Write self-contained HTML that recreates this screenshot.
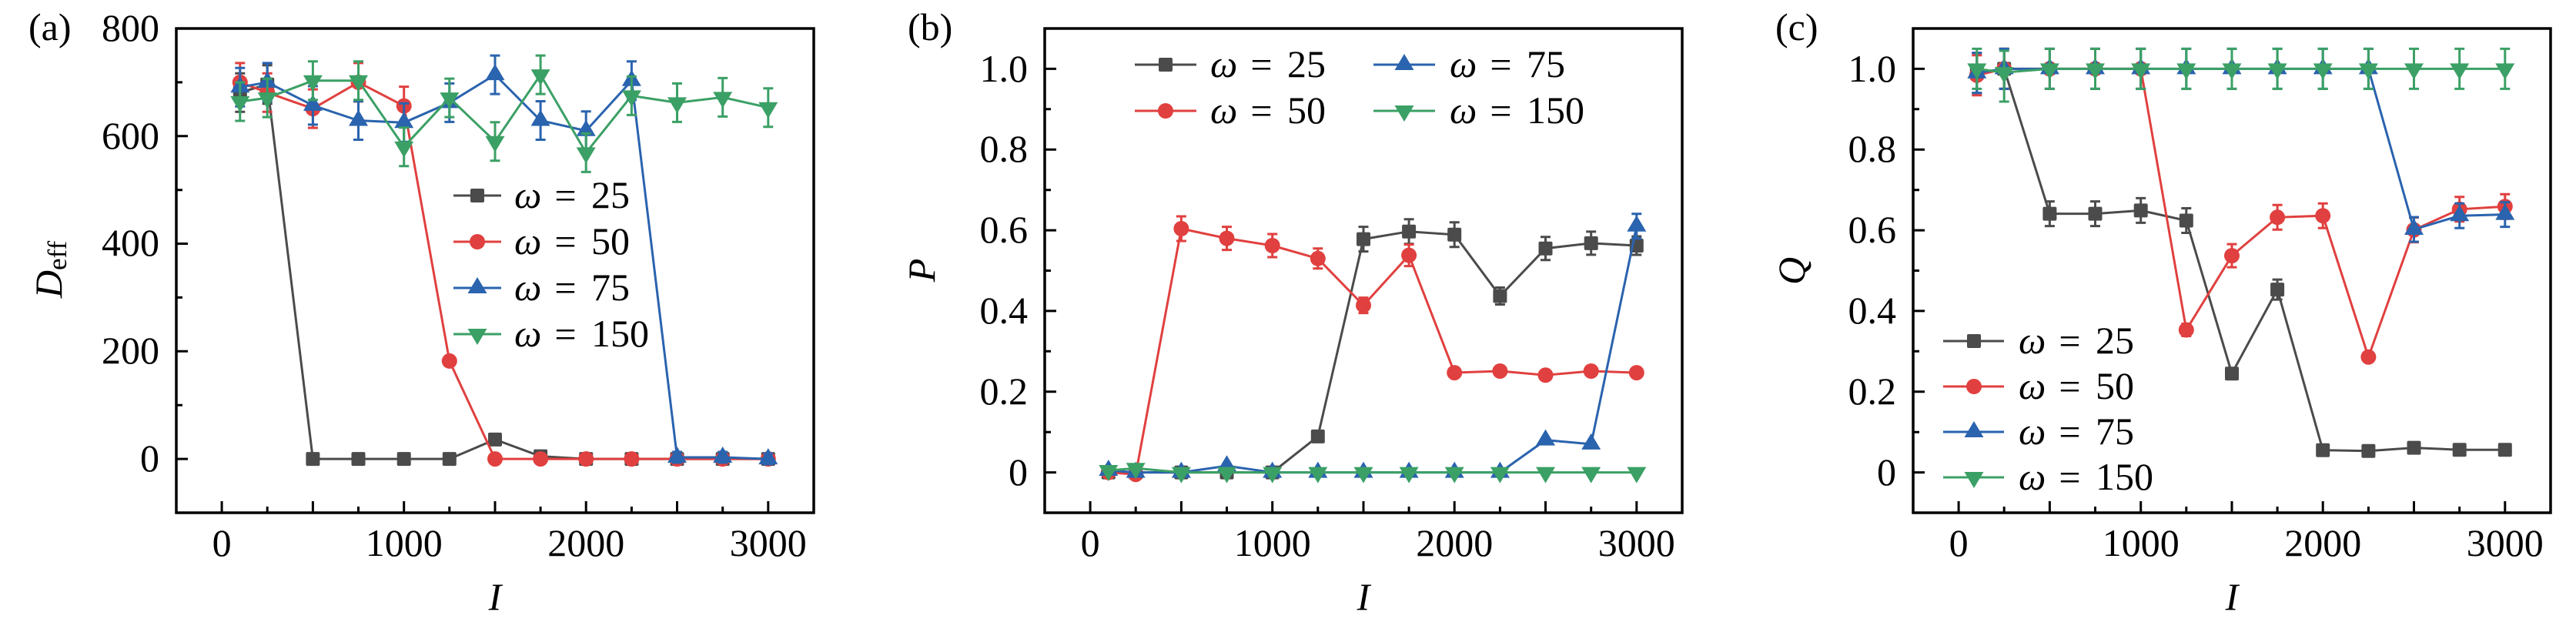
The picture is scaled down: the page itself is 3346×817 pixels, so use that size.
<!DOCTYPE html>
<html><head><meta charset="utf-8"><style>
html,body{margin:0;padding:0;background:#fff;}
svg{display:block;}
text{font-family:"Liberation Serif",serif;font-size:50px;fill:#000;}
</style></head><body>
<svg xmlns="http://www.w3.org/2000/svg" width="3346" height="817" viewBox="0 0 3346 817">
<defs>
<rect id="sq" x="-9" y="-9" width="18" height="18" rx="2"/>
<circle id="ci" cx="0" cy="0" r="10"/>
<polygon id="tu" points="0,-14 12.5,7 -12.5,7"/>
<polygon id="td" points="0,14 12.5,-7 -12.5,-7"/>
</defs>
<rect width="3346" height="817" fill="#fff"/>

<!-- panel labels -->
<text x="37" y="52">(a)</text>
<text x="1179" y="52">(b)</text>
<text x="2306" y="52">(c)</text>

<!-- ================= PANEL A ================= -->
<g transform="translate(229,0)">
<rect x="0" y="37" width="828" height="629" fill="none" stroke="#000" stroke-width="3.5"/>
<path stroke="#000" stroke-width="3" fill="none" d="M59.1,666v-15M177.4,666v-15M295.7,666v-15M414,666v-15M532.2,666v-15M650.5,666v-15M768.8,666v-15M118.2,666v-8M236.5,666v-8M354.8,666v-8M473.1,666v-8M591.4,666v-8M709.7,666v-8M0,596.1h15M0,456.3h15M0,316.5h15M0,176.8h15M0,526.2h8M0,386.4h8M0,246.7h8M0,106.9h8"/>
<g text-anchor="middle">
<text x="59.1" y="722">0</text><text x="295.7" y="722">1000</text><text x="532.2" y="722">2000</text><text x="768.8" y="722">3000</text>
</g>
<g text-anchor="end">
<text x="-22" y="612">0</text><text x="-22" y="472">200</text><text x="-22" y="332">400</text><text x="-22" y="193">600</text><text x="-22" y="53">800</text>
</g>
<text x="414" y="792" text-anchor="middle" font-style="italic">I</text>
<text transform="translate(-149,350) rotate(-90)" text-anchor="middle"><tspan font-style="italic">D</tspan><tspan font-size="35" dy="6">eff</tspan></text>

<!-- gray w=25 -->
<g stroke="#4b4b4b" fill="#4b4b4b">
<path fill="none" stroke-width="3" d="M82.8,95.2V145.2M76.3,95.2h13M76.3,145.2h13M118.2,84.7V134.7M111.7,84.7h13M111.7,134.7h13M473.1,586.6V598.6M466.6,586.6h13M466.6,598.6h13"/>
<polyline fill="none" stroke-width="3" points="82.8,120.2 118.2,109.7 177.4,596.1 236.5,596.1 295.7,596.1 354.8,596.1 414,570.9 473.1,592.6 532.2,596.1 591.4,596.1 650.5,596.1 709.7,596.1 768.8,596.1"/>
<g stroke="none">
<use href="#sq" x="82.8" y="120.2"/><use href="#sq" x="118.2" y="109.7"/><use href="#sq" x="177.4" y="596.1"/><use href="#sq" x="236.5" y="596.1"/><use href="#sq" x="295.7" y="596.1"/><use href="#sq" x="354.8" y="596.1"/><use href="#sq" x="414" y="570.9"/><use href="#sq" x="473.1" y="592.6"/><use href="#sq" x="532.2" y="596.1"/><use href="#sq" x="591.4" y="596.1"/><use href="#sq" x="650.5" y="596.1"/><use href="#sq" x="709.7" y="596.1"/><use href="#sq" x="768.8" y="596.1"/>
</g></g>
<!-- red w=50 -->
<g stroke="#e0403f" fill="#e0403f">
<path fill="none" stroke-width="3" d="M82.8,81.9V131.9M76.3,81.9h13M76.3,131.9h13M118.2,95.2V145.2M111.7,95.2h13M111.7,145.2h13M177.4,116.1V166.1M170.9,116.1h13M170.9,166.1h13M236.5,81.9V131.9M230,81.9h13M230,131.9h13M295.7,112.6V162.6M289.2,112.6h13M289.2,162.6h13"/>
<polyline fill="none" stroke-width="3" points="82.8,106.9 118.2,120.2 177.4,141.1 236.5,106.9 295.7,137.6 354.8,468.9 414,596.1 473.1,596.1 532.2,596.1 591.4,596.1 650.5,596.1 709.7,596.1 768.8,596.1"/>
<g stroke="none">
<use href="#ci" x="82.8" y="106.9"/><use href="#ci" x="118.2" y="120.2"/><use href="#ci" x="177.4" y="141.1"/><use href="#ci" x="236.5" y="106.9"/><use href="#ci" x="295.7" y="137.6"/><use href="#ci" x="354.8" y="468.9"/><use href="#ci" x="414" y="596.1"/><use href="#ci" x="473.1" y="596.1"/><use href="#ci" x="532.2" y="596.1"/><use href="#ci" x="591.4" y="596.1"/><use href="#ci" x="650.5" y="596.1"/><use href="#ci" x="709.7" y="596.1"/><use href="#ci" x="768.8" y="596.1"/>
</g></g>
<!-- blue w=75 -->
<g stroke="#2a63ae" fill="#2a63ae">
<path fill="none" stroke-width="3" d="M82.8,88.2V138.2M76.3,88.2h13M76.3,138.2h13M118.2,81.9V131.9M111.7,81.9h13M111.7,131.9h13M177.4,111.9V161.9M170.9,111.9h13M170.9,161.9h13M236.5,131.5V181.5M230,131.5h13M230,181.5h13M295.7,134.3V184.3M289.2,134.3h13M289.2,184.3h13M354.8,108.4V158.4M348.3,108.4h13M348.3,158.4h13M414,72.1V122.1M407.5,72.1h13M407.5,122.1h13M473.1,131.5V181.5M466.6,131.5h13M466.6,181.5h13M532.2,144.8V194.8M525.7,144.8h13M525.7,194.8h13M591.4,79.8V129.8M584.9,79.8h13M584.9,129.8h13M650.5,587V601M644,587h13M644,601h13M709.7,587V601M703.2,587h13M703.2,601h13M768.8,589.1V603.1M762.3,589.1h13M762.3,603.1h13"/>
<polyline fill="none" stroke-width="3" points="82.8,113.2 118.2,106.9 177.4,136.9 236.5,156.5 295.7,159.3 354.8,133.4 414,97.1 473.1,156.5 532.2,169.8 591.4,104.8 650.5,594 709.7,594 768.8,596.1"/>
<g stroke="none">
<use href="#tu" x="82.8" y="113.2"/><use href="#tu" x="118.2" y="106.9"/><use href="#tu" x="177.4" y="136.9"/><use href="#tu" x="236.5" y="156.5"/><use href="#tu" x="295.7" y="159.3"/><use href="#tu" x="354.8" y="133.4"/><use href="#tu" x="414" y="97.1"/><use href="#tu" x="473.1" y="156.5"/><use href="#tu" x="532.2" y="169.8"/><use href="#tu" x="591.4" y="104.8"/><use href="#tu" x="650.5" y="594"/><use href="#tu" x="709.7" y="594"/><use href="#tu" x="768.8" y="596.1"/>
</g></g>
<!-- green w=150 -->
<g stroke="#3ba065" fill="#3ba065">
<path fill="none" stroke-width="3" d="M82.8,107V157M76.3,107h13M76.3,157h13M118.2,102.1V152.1M111.7,102.1h13M111.7,152.1h13M177.4,79.8V129.8M170.9,79.8h13M170.9,129.8h13M236.5,79.8V129.8M230,79.8h13M230,129.8h13M295.7,165.7V215.7M289.2,165.7h13M289.2,215.7h13M354.8,102.1V152.1M348.3,102.1h13M348.3,152.1h13M414,158.8V208.8M407.5,158.8h13M407.5,208.8h13M473.1,72.1V122.1M466.6,72.1h13M466.6,122.1h13M532.2,173.4V223.4M525.7,173.4h13M525.7,223.4h13M591.4,99.4V149.4M584.9,99.4h13M584.9,149.4h13M650.5,108.4V158.4M644,108.4h13M644,158.4h13M709.7,101.4V151.4M703.2,101.4h13M703.2,151.4h13M768.8,114.7V164.7M762.3,114.7h13M762.3,164.7h13"/>
<polyline fill="none" stroke-width="3" points="82.8,132 118.2,127.1 177.4,104.8 236.5,104.8 295.7,190.7 354.8,127.1 414,183.8 473.1,97.1 532.2,198.4 591.4,124.4 650.5,133.4 709.7,126.4 768.8,139.7"/>
<g stroke="none">
<use href="#td" x="82.8" y="132"/><use href="#td" x="118.2" y="127.1"/><use href="#td" x="177.4" y="104.8"/><use href="#td" x="236.5" y="104.8"/><use href="#td" x="295.7" y="190.7"/><use href="#td" x="354.8" y="127.1"/><use href="#td" x="414" y="183.8"/><use href="#td" x="473.1" y="97.1"/><use href="#td" x="532.2" y="198.4"/><use href="#td" x="591.4" y="124.4"/><use href="#td" x="650.5" y="133.4"/><use href="#td" x="709.7" y="126.4"/><use href="#td" x="768.8" y="139.7"/>
</g></g>

<!-- legend a -->
<g stroke-width="3">
<line x1="360" y1="254" x2="422" y2="254" stroke="#4b4b4b"/><use href="#sq" x="391" y="254" fill="#4b4b4b"/>
<line x1="360" y1="314" x2="422" y2="314" stroke="#e0403f"/><use href="#ci" x="391" y="314" fill="#e0403f"/>
<line x1="360" y1="374" x2="422" y2="374" stroke="#2a63ae"/><use href="#tu" x="391" y="374" fill="#2a63ae"/>
<line x1="360" y1="434" x2="422" y2="434" stroke="#3ba065"/><use href="#td" x="391" y="434" fill="#3ba065"/>
</g>
<text x="439" y="270" font-style="italic">ω</text><text x="505.5" y="271" text-anchor="middle" font-size="56">=</text><text x="539" y="270">25</text>
<text x="439" y="330" font-style="italic">ω</text><text x="505.5" y="331" text-anchor="middle" font-size="56">=</text><text x="539" y="330">50</text>
<text x="439" y="390" font-style="italic">ω</text><text x="505.5" y="391" text-anchor="middle" font-size="56">=</text><text x="539" y="390">75</text>
<text x="439" y="450" font-style="italic">ω</text><text x="505.5" y="451" text-anchor="middle" font-size="56">=</text><text x="539" y="450">150</text>
</g>

<!-- ================= PANEL B ================= -->
<g transform="translate(1357,0)">
<rect x="0" y="37" width="828" height="629" fill="none" stroke="#000" stroke-width="3.5"/>
<path stroke="#000" stroke-width="3" fill="none" d="M59.1,666v-15M177.4,666v-15M295.7,666v-15M414,666v-15M532.2,666v-15M650.5,666v-15M768.8,666v-15M118.2,666v-8M236.5,666v-8M354.8,666v-8M473.1,666v-8M591.4,666v-8M709.7,666v-8M0,613.6h15M0,508.7h15M0,403.9h15M0,299.1h15M0,194.2h15M0,89.4h15M0,561.2h8M0,456.3h8M0,351.5h8M0,246.7h8M0,141.8h8"/>
<g text-anchor="middle">
<text x="59.1" y="722">0</text><text x="295.7" y="722">1000</text><text x="532.2" y="722">2000</text><text x="768.8" y="722">3000</text>
</g>
<g text-anchor="end">
<text x="-22" y="630">0</text><text x="-22" y="525">0.2</text><text x="-22" y="420">0.4</text><text x="-22" y="315">0.6</text><text x="-22" y="210">0.8</text><text x="-22" y="106">1.0</text>
</g>
<text x="414" y="792" text-anchor="middle" font-style="italic">I</text>
<text transform="translate(-143,351) rotate(-90)" text-anchor="middle" font-style="italic">P</text>

<!-- gray -->
<g stroke="#4b4b4b" fill="#4b4b4b">
<path fill="none" stroke-width="3" d="M414,294.6V326.6M407.5,294.6h13M407.5,326.6h13M473.1,284.7V316.7M466.6,284.7h13M466.6,316.7h13M532.2,288.8V320.8M525.7,288.8h13M525.7,320.8h13M591.4,373.5V395.5M584.9,373.5h13M584.9,395.5h13M650.5,307.7V337.7M644,307.7h13M644,337.7h13M709.7,300.9V330.9M703.2,300.9h13M703.2,330.9h13M768.8,307V331M762.3,307h13M762.3,331h13"/>
<polyline fill="none" stroke-width="3" points="82.8,613.6 118.2,613.6 177.4,613.6 236.5,613.6 295.7,613.6 354.8,566.9 414,310.6 473.1,300.7 532.2,304.8 591.4,384.5 650.5,322.7 709.7,315.9 768.8,319"/>
<g stroke="none">
<use href="#sq" x="82.8" y="613.6"/><use href="#sq" x="118.2" y="613.6"/><use href="#sq" x="177.4" y="613.6"/><use href="#sq" x="236.5" y="613.6"/><use href="#sq" x="295.7" y="613.6"/><use href="#sq" x="354.8" y="566.9"/><use href="#sq" x="414" y="310.6"/><use href="#sq" x="473.1" y="300.7"/><use href="#sq" x="532.2" y="304.8"/><use href="#sq" x="591.4" y="384.5"/><use href="#sq" x="650.5" y="322.7"/><use href="#sq" x="709.7" y="315.9"/><use href="#sq" x="768.8" y="319"/>
</g></g>
<!-- red -->
<g stroke="#e0403f" fill="#e0403f">
<path fill="none" stroke-width="3" d="M177.4,281V313M170.9,281h13M170.9,313h13M236.5,294.6V324.6M230,294.6h13M230,324.6h13M295.7,304V334M289.2,304h13M289.2,334h13M354.8,322.8V348.8M348.3,322.8h13M348.3,348.8h13M414,386.6V406.6M407.5,386.6h13M407.5,406.6h13M473.1,317.6V345.6M466.6,317.6h13M466.6,345.6h13M532.2,480.1V488.1M525.7,480.1h13M525.7,488.1h13M591.4,478V486M584.9,478h13M584.9,486h13M650.5,483.3V491.3M644,483.3h13M644,491.3h13M709.7,478V486M703.2,478h13M703.2,486h13M768.8,480.1V488.1M762.3,480.1h13M762.3,488.1h13"/>
<polyline fill="none" stroke-width="3" points="82.8,613.6 118.2,616.2 177.4,297 236.5,309.6 295.7,319 354.8,335.8 414,396.6 473.1,331.6 532.2,484.1 591.4,482 650.5,487.3 709.7,482 768.8,484.1"/>
<g stroke="none">
<use href="#ci" x="82.8" y="613.6"/><use href="#ci" x="118.2" y="616.2"/><use href="#ci" x="177.4" y="297"/><use href="#ci" x="236.5" y="309.6"/><use href="#ci" x="295.7" y="319"/><use href="#ci" x="354.8" y="335.8"/><use href="#ci" x="414" y="396.6"/><use href="#ci" x="473.1" y="331.6"/><use href="#ci" x="532.2" y="484.1"/><use href="#ci" x="591.4" y="482"/><use href="#ci" x="650.5" y="487.3"/><use href="#ci" x="709.7" y="482"/><use href="#ci" x="768.8" y="484.1"/>
</g></g>
<!-- blue -->
<g stroke="#2a63ae" fill="#2a63ae">
<path fill="none" stroke-width="3" d="M768.8,277.8V309.8M762.3,277.8h13M762.3,309.8h13"/>
<polyline fill="none" stroke-width="3" points="82.8,611 118.2,613.6 177.4,613.6 236.5,605.2 295.7,613.6 354.8,613.6 414,613.6 473.1,613.6 532.2,613.6 591.4,613.6 650.5,571.6 709.7,576.9 768.8,293.8"/>
<g stroke="none">
<use href="#tu" x="82.8" y="611"/><use href="#tu" x="118.2" y="613.6"/><use href="#tu" x="177.4" y="613.6"/><use href="#tu" x="236.5" y="605.2"/><use href="#tu" x="295.7" y="613.6"/><use href="#tu" x="354.8" y="613.6"/><use href="#tu" x="414" y="613.6"/><use href="#tu" x="473.1" y="613.6"/><use href="#tu" x="532.2" y="613.6"/><use href="#tu" x="591.4" y="613.6"/><use href="#tu" x="650.5" y="571.6"/><use href="#tu" x="709.7" y="576.9"/><use href="#tu" x="768.8" y="293.8"/>
</g></g>
<!-- green -->
<g stroke="#3ba065" fill="#3ba065">
<polyline fill="none" stroke-width="3" points="82.8,611 118.2,608.3 177.4,613.6 236.5,613.6 295.7,613.6 354.8,613.6 414,613.6 473.1,613.6 532.2,613.6 591.4,613.6 650.5,613.6 709.7,613.6 768.8,613.6"/>
<g stroke="none">
<use href="#td" x="82.8" y="611"/><use href="#td" x="118.2" y="608.3"/><use href="#td" x="177.4" y="613.6"/><use href="#td" x="236.5" y="613.6"/><use href="#td" x="295.7" y="613.6"/><use href="#td" x="354.8" y="613.6"/><use href="#td" x="414" y="613.6"/><use href="#td" x="473.1" y="613.6"/><use href="#td" x="532.2" y="613.6"/><use href="#td" x="591.4" y="613.6"/><use href="#td" x="650.5" y="613.6"/><use href="#td" x="709.7" y="613.6"/><use href="#td" x="768.8" y="613.6"/>
</g></g>

<!-- legend b -->
<g stroke-width="3">
<line x1="117" y1="84" x2="197" y2="84" stroke="#4b4b4b"/><use href="#sq" x="157" y="84" fill="#4b4b4b"/>
<line x1="117" y1="144" x2="197" y2="144" stroke="#e0403f"/><use href="#ci" x="157" y="144" fill="#e0403f"/>
<line x1="427" y1="84" x2="507" y2="84" stroke="#2a63ae"/><use href="#tu" x="467" y="84" fill="#2a63ae"/>
<line x1="427" y1="144" x2="507" y2="144" stroke="#3ba065"/><use href="#td" x="467" y="144" fill="#3ba065"/>
</g>
<text x="215" y="100" font-style="italic">ω</text><text x="281.5" y="101" text-anchor="middle" font-size="56">=</text><text x="315" y="100">25</text>
<text x="215" y="160" font-style="italic">ω</text><text x="281.5" y="161" text-anchor="middle" font-size="56">=</text><text x="315" y="160">50</text>
<text x="526" y="100" font-style="italic">ω</text><text x="592.5" y="101" text-anchor="middle" font-size="56">=</text><text x="626" y="100">75</text>
<text x="526" y="160" font-style="italic">ω</text><text x="592.5" y="161" text-anchor="middle" font-size="56">=</text><text x="626" y="160">150</text>
</g>

<!-- ================= PANEL C ================= -->
<g transform="translate(2485,0)">
<rect x="0" y="37" width="828" height="629" fill="none" stroke="#000" stroke-width="3.5"/>
<path stroke="#000" stroke-width="3" fill="none" d="M59.1,666v-15M177.4,666v-15M295.7,666v-15M414,666v-15M532.2,666v-15M650.5,666v-15M768.8,666v-15M118.2,666v-8M236.5,666v-8M354.8,666v-8M473.1,666v-8M591.4,666v-8M709.7,666v-8M0,613.6h15M0,508.7h15M0,403.9h15M0,299.1h15M0,194.2h15M0,89.4h15M0,561.2h8M0,456.3h8M0,351.5h8M0,246.7h8M0,141.8h8"/>
<g text-anchor="middle">
<text x="59.1" y="722">0</text><text x="295.7" y="722">1000</text><text x="532.2" y="722">2000</text><text x="768.8" y="722">3000</text>
</g>
<g text-anchor="end">
<text x="-22" y="630">0</text><text x="-22" y="525">0.2</text><text x="-22" y="420">0.4</text><text x="-22" y="315">0.6</text><text x="-22" y="210">0.8</text><text x="-22" y="106">1.0</text>
</g>
<text x="414" y="792" text-anchor="middle" font-style="italic">I</text>
<text transform="translate(-141,352) rotate(-90)" text-anchor="middle" font-style="italic">Q</text>

<!-- gray -->
<g stroke="#4b4b4b" fill="#4b4b4b">
<path fill="none" stroke-width="3" d="M82.8,68.7V120.7M76.3,68.7h13M76.3,120.7h13M118.2,63.4V115.4M111.7,63.4h13M111.7,115.4h13M177.4,261.6V293.6M170.9,261.6h13M170.9,293.6h13M236.5,261.6V293.6M230,261.6h13M230,293.6h13M295.7,257.4V289.4M289.2,257.4h13M289.2,289.4h13M354.8,270.5V302.5M348.3,270.5h13M348.3,302.5h13M414,482.2V488.2M407.5,482.2h13M407.5,488.2h13M473.1,363.1V389.1M466.6,363.1h13M466.6,389.1h13"/>
<polyline fill="none" stroke-width="3" points="82.8,94.7 118.2,89.4 177.4,277.6 236.5,277.6 295.7,273.4 354.8,286.5 414,485.2 473.1,376.1 532.2,584.7 591.4,585.8 650.5,581.6 709.7,584.2 768.8,584.2"/>
<g stroke="none">
<use href="#sq" x="82.8" y="94.7"/><use href="#sq" x="118.2" y="89.4"/><use href="#sq" x="177.4" y="277.6"/><use href="#sq" x="236.5" y="277.6"/><use href="#sq" x="295.7" y="273.4"/><use href="#sq" x="354.8" y="286.5"/><use href="#sq" x="414" y="485.2"/><use href="#sq" x="473.1" y="376.1"/><use href="#sq" x="532.2" y="584.7"/><use href="#sq" x="591.4" y="585.8"/><use href="#sq" x="650.5" y="581.6"/><use href="#sq" x="709.7" y="584.2"/><use href="#sq" x="768.8" y="584.2"/>
</g></g>
<!-- red -->
<g stroke="#e0403f" fill="#e0403f">
<path fill="none" stroke-width="3" d="M82.8,71.8V123.8M76.3,71.8h13M76.3,123.8h13M118.2,63.4V115.4M111.7,63.4h13M111.7,115.4h13M177.4,63.4V115.4M170.9,63.4h13M170.9,115.4h13M236.5,63.4V115.4M230,63.4h13M230,115.4h13M295.7,63.4V115.4M289.2,63.4h13M289.2,115.4h13M354.8,420.5V436.5M348.3,420.5h13M348.3,436.5h13M414,317.1V347.1M407.5,317.1h13M407.5,347.1h13M473.1,266.3V298.3M466.6,266.3h13M466.6,298.3h13M532.2,264.2V296.2M525.7,264.2h13M525.7,296.2h13M591.4,459.7V467.7M584.9,459.7h13M584.9,467.7h13M650.5,282.6V314.6M644,282.6h13M644,314.6h13M709.7,255.8V287.8M703.2,255.8h13M703.2,287.8h13M768.8,252.2V284.2M762.3,252.2h13M762.3,284.2h13"/>
<polyline fill="none" stroke-width="3" points="82.8,97.8 118.2,89.4 177.4,89.4 236.5,89.4 295.7,89.4 354.8,428.5 414,332.1 473.1,282.3 532.2,280.2 591.4,463.7 650.5,298.6 709.7,271.8 768.8,268.2"/>
<g stroke="none">
<use href="#ci" x="82.8" y="97.8"/><use href="#ci" x="118.2" y="89.4"/><use href="#ci" x="177.4" y="89.4"/><use href="#ci" x="236.5" y="89.4"/><use href="#ci" x="295.7" y="89.4"/><use href="#ci" x="354.8" y="428.5"/><use href="#ci" x="414" y="332.1"/><use href="#ci" x="473.1" y="282.3"/><use href="#ci" x="532.2" y="280.2"/><use href="#ci" x="591.4" y="463.7"/><use href="#ci" x="650.5" y="298.6"/><use href="#ci" x="709.7" y="271.8"/><use href="#ci" x="768.8" y="268.2"/>
</g></g>
<!-- blue -->
<g stroke="#2a63ae" fill="#2a63ae">
<path fill="none" stroke-width="3" d="M82.8,68.7V120.7M76.3,68.7h13M76.3,120.7h13M118.2,63.4V115.4M111.7,63.4h13M111.7,115.4h13M177.4,63.4V115.4M170.9,63.4h13M170.9,115.4h13M236.5,63.4V115.4M230,63.4h13M230,115.4h13M295.7,63.4V115.4M289.2,63.4h13M289.2,115.4h13M354.8,63.4V115.4M348.3,63.4h13M348.3,115.4h13M414,63.4V115.4M407.5,63.4h13M407.5,115.4h13M473.1,63.4V115.4M466.6,63.4h13M466.6,115.4h13M532.2,63.4V115.4M525.7,63.4h13M525.7,115.4h13M591.4,63.4V115.4M584.9,63.4h13M584.9,115.4h13M650.5,282V314M644,282h13M644,314h13M709.7,264.2V296.2M703.2,264.2h13M703.2,296.2h13M768.8,262.6V294.6M762.3,262.6h13M762.3,294.6h13"/>
<polyline fill="none" stroke-width="3" points="82.8,94.7 118.2,89.4 177.4,89.4 236.5,89.4 295.7,89.4 354.8,89.4 414,89.4 473.1,89.4 532.2,89.4 591.4,89.4 650.5,298 709.7,280.2 768.8,278.6"/>
<g stroke="none">
<use href="#tu" x="82.8" y="94.7"/><use href="#tu" x="118.2" y="89.4"/><use href="#tu" x="177.4" y="89.4"/><use href="#tu" x="236.5" y="89.4"/><use href="#tu" x="295.7" y="89.4"/><use href="#tu" x="354.8" y="89.4"/><use href="#tu" x="414" y="89.4"/><use href="#tu" x="473.1" y="89.4"/><use href="#tu" x="532.2" y="89.4"/><use href="#tu" x="591.4" y="89.4"/><use href="#tu" x="650.5" y="298"/><use href="#tu" x="709.7" y="280.2"/><use href="#tu" x="768.8" y="278.6"/>
</g></g>
<!-- green -->
<g stroke="#3ba065" fill="#3ba065">
<path fill="none" stroke-width="3" d="M82.8,63.4V115.4M76.3,63.4h13M76.3,115.4h13M118.2,66V132M111.7,66h13M111.7,132h13M177.4,63.4V115.4M170.9,63.4h13M170.9,115.4h13M236.5,63.4V115.4M230,63.4h13M230,115.4h13M295.7,63.4V115.4M289.2,63.4h13M289.2,115.4h13M354.8,63.4V115.4M348.3,63.4h13M348.3,115.4h13M414,63.4V115.4M407.5,63.4h13M407.5,115.4h13M473.1,63.4V115.4M466.6,63.4h13M466.6,115.4h13M532.2,63.4V115.4M525.7,63.4h13M525.7,115.4h13M591.4,63.4V115.4M584.9,63.4h13M584.9,115.4h13M650.5,63.4V115.4M644,63.4h13M644,115.4h13M709.7,63.4V115.4M703.2,63.4h13M703.2,115.4h13M768.8,63.4V115.4M762.3,63.4h13M762.3,115.4h13"/>
<polyline fill="none" stroke-width="3" points="82.8,89.4 118.2,94.1 177.4,89.4 236.5,89.4 295.7,89.4 354.8,89.4 414,89.4 473.1,89.4 532.2,89.4 591.4,89.4 650.5,89.4 709.7,89.4 768.8,89.4"/>
<g stroke="none">
<use href="#td" x="82.8" y="89.4"/><use href="#td" x="118.2" y="94.1"/><use href="#td" x="177.4" y="89.4"/><use href="#td" x="236.5" y="89.4"/><use href="#td" x="295.7" y="89.4"/><use href="#td" x="354.8" y="89.4"/><use href="#td" x="414" y="89.4"/><use href="#td" x="473.1" y="89.4"/><use href="#td" x="532.2" y="89.4"/><use href="#td" x="591.4" y="89.4"/><use href="#td" x="650.5" y="89.4"/><use href="#td" x="709.7" y="89.4"/><use href="#td" x="768.8" y="89.4"/>
</g></g>

<!-- legend c -->
<g stroke-width="3">
<line x1="39" y1="443" x2="118" y2="443" stroke="#4b4b4b"/><use href="#sq" x="79" y="443" fill="#4b4b4b"/>
<line x1="39" y1="502" x2="118" y2="502" stroke="#e0403f"/><use href="#ci" x="79" y="502" fill="#e0403f"/>
<line x1="39" y1="561" x2="118" y2="561" stroke="#2a63ae"/><use href="#tu" x="79" y="561" fill="#2a63ae"/>
<line x1="39" y1="620" x2="118" y2="620" stroke="#3ba065"/><use href="#td" x="79" y="620" fill="#3ba065"/>
</g>
<text x="137" y="459" font-style="italic">ω</text><text x="203.5" y="460" text-anchor="middle" font-size="56">=</text><text x="237" y="459">25</text>
<text x="137" y="518" font-style="italic">ω</text><text x="203.5" y="519" text-anchor="middle" font-size="56">=</text><text x="237" y="518">50</text>
<text x="137" y="577" font-style="italic">ω</text><text x="203.5" y="578" text-anchor="middle" font-size="56">=</text><text x="237" y="577">75</text>
<text x="137" y="636" font-style="italic">ω</text><text x="203.5" y="637" text-anchor="middle" font-size="56">=</text><text x="237" y="636">150</text>
</g>
</svg>
</body></html>
